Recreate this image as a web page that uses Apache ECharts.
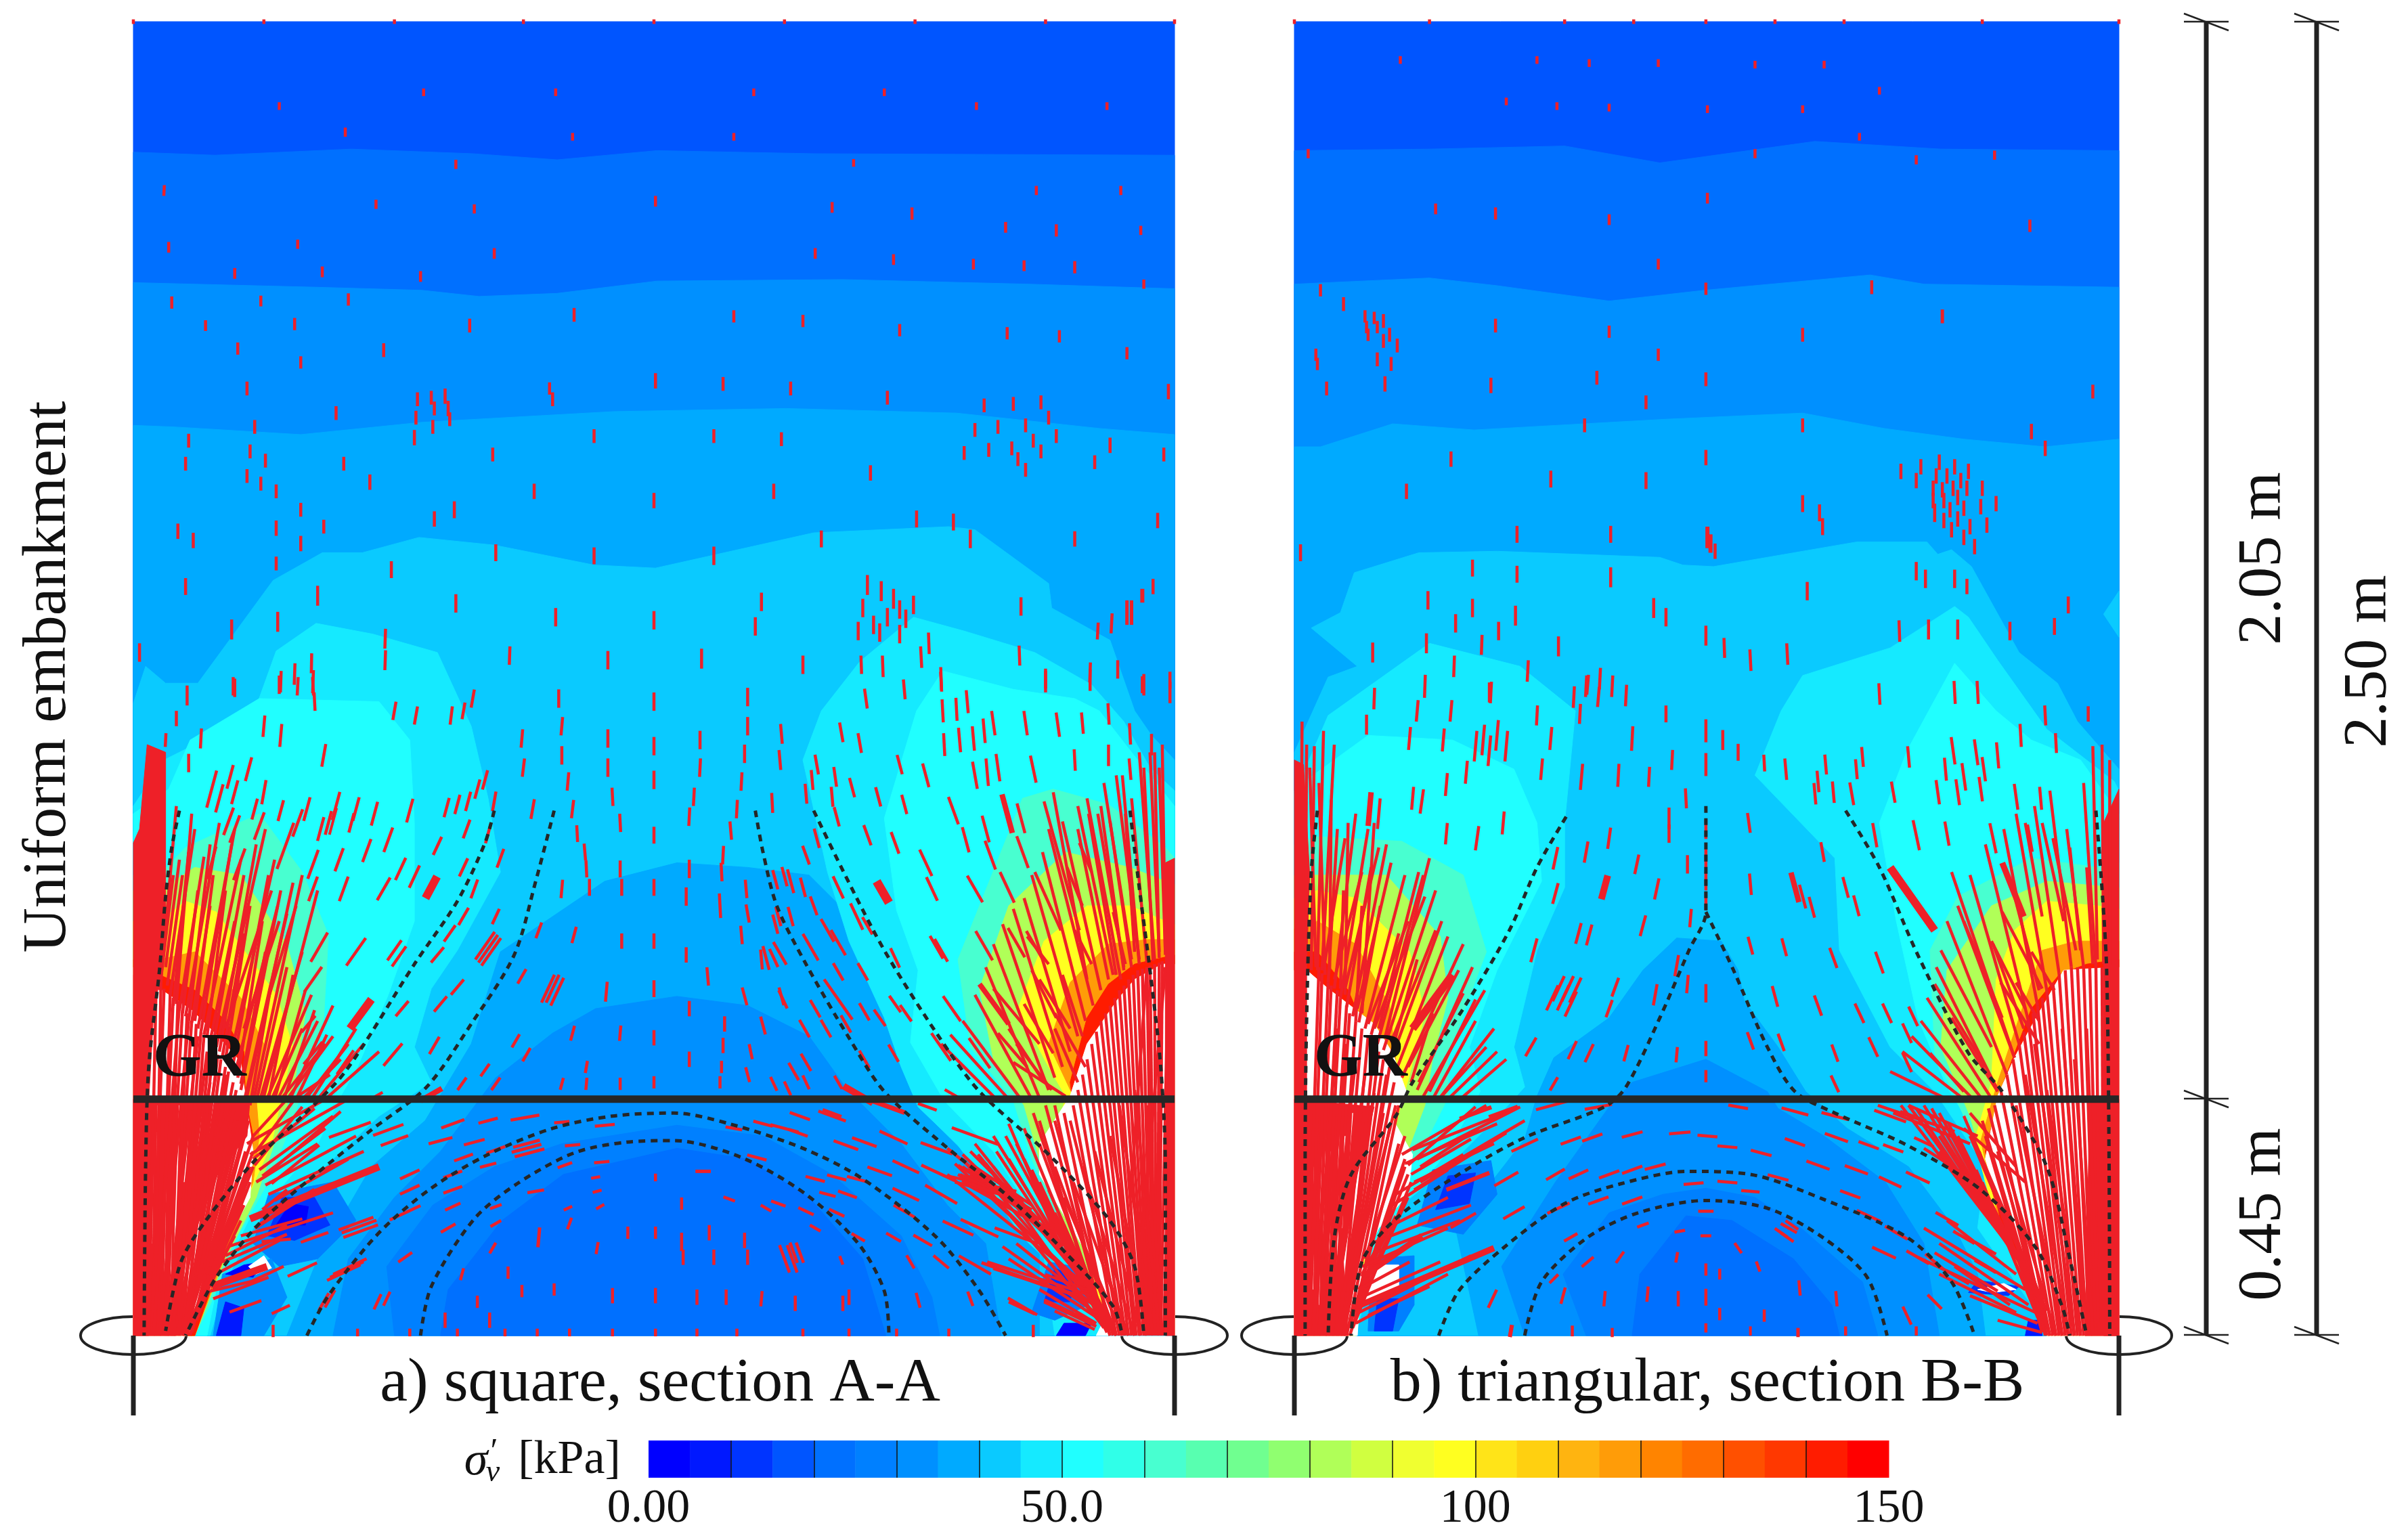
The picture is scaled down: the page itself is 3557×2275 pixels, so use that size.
<!DOCTYPE html>
<html>
<head>
<meta charset="utf-8">
<title>Uniform embankment</title>
<script src="https://cdn.jsdelivr.net/npm/echarts@6/dist/echarts.min.js"></script>
<style>html,body{margin:0;background:#fff}#main{width:3557px;height:2275px}</style>
</head>
<body>
<div id="main"></div>
<script>
// colour bins of the stress scale, 5 kPa each
var bandColors = ['#0000ff','#0018ff','#0034ff','#0055ff','#0070ff','#0080ff','#0090ff','#00aaff','#0acaff','#15eaff','#20ffff','#30ffe8','#48ffd0','#58ffb0','#70ff90','#90ff70','#b0ff58','#d0ff40','#f0ff30','#ffff20','#ffe418','#ffd010','#ffb410','#ff9c08','#ff8400','#ff6c00','#ff5000','#ff3800','#ff1c00','#ff0000'];
var scaleStart = [0,5,10,15,20,25,30,35,40,45,50,55,60,65,70,75,80,85,90,95,100,105,110,115,120,125,130,135,140,145];
var scaleTicks = [10,20,30,40,50,60,70,80,90,100,110,120,130,140];
var scaleLabels = {0:'0.00',50:'50.0',100:'100',150:'150'};

// panel units: 342 per metre, v measured up from the pile head
var widthA = 678, widthB = 537, heightAB = 856, grLevel = 154;

// [colour bin, outline] painted in order
var contoursA = [
 [3,[[0,0],[0,856],[678,856],[678,0]]],
 [4,[[0,771],[53,769],[142,773],[221,770],[276,766],[341,772],[443,770],[678,769],[678,0],[0,0]]],
 [6,[[0,686],[119,683],[188,681],[225,677],[276,679],[341,687],[462,688],[583,685],[678,682],[678,0],[0,0]]],
 [7,[[0,593],[26,592],[109,587],[188,595],[313,602],[425,604],[536,601],[629,591],[678,587],[678,0],[0,0]]],
 [8,[[0,412],[8,436],[21,425],[42,425],[91,492],[123,510],[149,510],[186,520],[235,515],[300,502],[340,500],[443,523],[531,527],[548,525],[596,490],[598,474],[636,453],[652,407],[663,391],[678,375],[678,0],[0,0]]],
 [7,[[100,0],[120,50],[155,110],[190,140],[220,190],[239,250],[273,273],[307,296],[354,308],[400,305],[440,300],[470,270],[490,230],[497,180],[520,140],[560,100],[590,60],[590,0]]],
 [6,[[130,0],[140,50],[170,90],[200,120],[236,168],[273,197],[301,213],[354,221],[400,215],[440,195],[465,160],[500,125],[530,85],[555,60],[565,0]]],
 [5,[[170,0],[165,45],[195,85],[235,110],[279,125],[354,137],[410,130],[455,105],[500,65],[520,25],[525,0]]],
 [4,[[200,0],[205,30],[240,75],[280,105],[354,122],[400,115],[440,90],[475,50],[490,0]]],
 [9,[[0,345],[20,375],[60,395],[79,407],[93,446],[119,464],[156,457],[198,445],[220,397],[231,350],[239,302],[211,251],[194,226],[183,188],[194,165],[160,143],[130,115],[100,85],[78,70],[60,35],[50,0],[0,0]]],
 [10,[[0,340],[23,356],[37,388],[82,415],[160,413],[180,388],[183,334],[183,270],[166,222],[146,175],[135,156],[120,125],[95,95],[75,75],[55,35],[48,0],[0,0]]],
 [12,[[0,300],[17,300],[34,318],[82,340],[110,302],[127,261],[124,207],[110,159],[100,130],[85,95],[68,65],[50,20],[40,0],[0,0]]],
 [16,[[0,290],[17,290],[40,305],[70,300],[100,255],[112,210],[105,165],[95,135],[80,90],[60,50],[40,0],[0,0]]],
 [19,[[0,270],[17,270],[34,283],[54,276],[93,222],[104,188],[96,153],[90,125],[72,85],[40,0],[0,0]]],
 [23,[[0,245],[17,245],[40,250],[70,220],[85,190],[80,155],[82,130],[78,100],[40,0],[0,0]]],
 [28,[[0,235],[17,235],[40,225],[60,205],[72,185],[73,155],[78,130],[75,100],[40,0],[0,0]]],
 [9,[[448,407],[473,439],[508,468],[541,459],[587,445],[624,424],[645,400],[662,370],[678,355],[678,0],[600,0],[593,51],[579,64],[562,89],[537,124],[511,149],[500,175],[489,207],[466,257],[452,302],[436,375]]],
 [10,[[510,407],[527,433],[573,421],[613,415],[629,407],[650,380],[678,345],[678,0],[620,20],[605,55],[585,80],[560,120],[528,153],[506,191],[511,238],[497,277],[489,337]]],
 [12,[[537,245],[551,280],[579,350],[599,356],[635,346],[672,318],[678,311],[678,0],[625,15],[605,70],[585,115],[573,153],[545,188]]],
 [16,[[551,226],[570,280],[607,315],[649,305],[672,296],[678,294],[678,0],[627,15],[610,65],[590,115],[580,150],[560,180]]],
 [19,[[576,213],[593,257],[621,280],[649,280],[672,270],[678,268],[678,0],[630,15],[615,70],[600,125],[607,156],[596,175]]],
 [23,[[596,190],[610,230],[635,255],[660,258],[678,258],[678,0],[625,50],[605,120],[612,156]]],
 [28,[[610,165],[621,207],[635,229],[652,242],[678,248],[678,0],[630,30],[607,120],[612,150]]],
 [5,[[78,60],[88,92],[130,100],[145,75],[120,50],[95,45]]],
 [2,[[87,65],[97,90],[118,90],[128,72],[105,62]]],
 [0,[[93,72],[102,86],[114,84],[112,72]]],
 [6,[[52,0],[58,40],[90,50],[100,25],[85,0]]],
 [1,[[54,0],[60,22],[72,18],[70,0]]],
 [0,[[60,40],[72,46],[84,48],[78,38]]],
 [-1,[[75,45],[85,52],[90,44],[80,40]]],
 [5,[[585,15],[596,48],[618,44],[622,20],[600,10]]],
 [2,[[593,22],[600,44],[613,38],[610,22]]],
 [0,[[601,0],[606,8],[624,8],[620,0]]],
 [-1,[[0,240],[17,226],[38,212],[55,195],[70,178],[73,155],[78,120],[76,90],[60,60],[50,30],[35,0],[0,0]]],
 [-1,[[610,156],[621,190],[641,219],[652,232],[670,242],[678,242],[678,0],[627,0],[635,16],[620,55],[590,105],[590,125]]]
];
var contoursB = [
 [3,[[0,0],[0,856],[537,856],[537,0]]],
 [4,[[0,772],[88,773],[176,775],[238,764],[339,778],[421,773],[537,772],[537,0],[0,0]]],
 [6,[[0,685],[88,689],[132,684],[205,674],[267,681],[375,691],[410,685],[537,683],[537,0],[0,0]]],
 [7,[[0,579],[17,579],[64,594],[117,590],[242,597],[331,601],[384,591],[436,584],[489,579],[537,584],[537,0],[0,0]]],
 [8,[[0,380],[22,429],[41,436],[11,461],[30,471],[39,497],[81,510],[132,511],[238,507],[253,502],[273,501],[366,517],[412,517],[419,509],[428,512],[441,501],[472,445],[497,425],[510,400],[537,369],[537,0],[0,0]]],
 [8,[[527,470],[537,485],[537,455]]],
 [7,[[120,0],[105,70],[150,128],[158,156],[169,181],[205,207],[227,238],[249,259],[278,257],[289,238],[293,218],[315,188],[333,159],[360,135],[400,110],[430,70],[445,40],[450,0]]],
 [6,[[150,0],[135,45],[170,100],[195,135],[205,149],[220,165],[268,180],[308,159],[315,148],[345,130],[385,100],[410,60],[420,0]]],
 [5,[[190,0],[175,40],[205,80],[240,92],[268,96],[300,90],[330,70],[370,35],[380,0]]],
 [4,[[220,0],[225,40],[255,78],[285,75],[325,50],[350,20],[355,0]]],
 [9,[[0,353],[4,362],[22,404],[88,451],[147,436],[183,407],[176,334],[176,292],[158,251],[143,188],[150,162],[130,140],[100,110],[70,85],[55,60],[45,20],[40,0],[0,0]]],
 [10,[[0,355],[8,362],[48,391],[103,388],[143,369],[158,334],[161,296],[132,238],[114,188],[121,159],[100,120],[75,90],[50,50],[40,0],[0,0]]],
 [12,[[0,320],[15,325],[70,322],[110,300],[125,250],[110,210],[100,180],[100,155],[85,125],[65,95],[45,50],[38,0],[0,0]]],
 [16,[[0,300],[15,300],[60,300],[95,260],[100,220],[90,180],[85,150],[70,110],[50,70],[40,0],[0,0]]],
 [19,[[0,285],[15,290],[40,285],[75,250],[85,210],[75,170],[68,145],[60,110],[48,70],[40,0],[0,0]]],
 [23,[[0,265],[15,270],[40,255],[62,215],[66,180],[62,150],[55,110],[45,70],[38,0],[0,0]]],
 [28,[[0,250],[15,250],[35,225],[50,190],[58,165],[55,140],[50,110],[42,60],[35,0],[0,0]]],
 [9,[[317,407],[331,430],[388,448],[430,475],[439,468],[458,440],[490,395],[534,361],[537,355],[537,0],[488,0],[480,20],[445,70],[450,110],[417,159],[388,188],[355,251],[352,311],[300,365]]],
 [10,[[490,0],[465,60],[447,127],[425,162],[406,207],[392,270],[381,334],[399,381],[430,438],[457,407],[480,388],[512,375],[537,340],[537,0]]],
 [12,[[487,16],[458,80],[436,143],[417,184],[414,251],[432,286],[480,311],[523,305],[537,308],[537,0],[490,0]]],
 [16,[[487,16],[458,80],[440,143],[421,188],[425,238],[454,280],[490,296],[534,292],[537,292],[537,0],[490,0]]],
 [19,[[490,13],[458,70],[443,127],[454,165],[457,232],[469,264],[490,283],[523,280],[537,278],[537,0],[490,0]]],
 [23,[[490,13],[460,70],[447,127],[458,165],[472,207],[487,251],[509,257],[537,257],[537,0],[490,0]]],
 [28,[[490,13],[461,70],[450,120],[460,160],[480,213],[498,235],[516,242],[537,245],[537,0],[490,0]]],
 [5,[[80,72],[90,108],[128,114],[132,92],[110,66]]],
 [2,[[92,82],[100,104],[118,106],[114,86]]],
 [5,[[48,3],[50,50],[78,52],[78,20],[68,3]]],
 [2,[[52,3],[54,24],[68,24],[64,3]]],
 [2,[[439,28],[445,36],[472,32],[465,26]]],
 [1,[[476,0],[478,10],[487,10],[487,0]]],
 [-1,[[0,238],[8,238],[22,226],[52,203],[64,184],[74,156],[63,143],[77,118],[74,92],[55,70],[44,48],[41,0],[0,0]]],
 [-1,[[44,22],[44,46],[68,46],[68,30]]],
 [-1,[[458,156],[469,181],[483,207],[501,238],[518,239],[537,240],[537,0],[490,0],[476,48],[461,80],[450,115]]],
 [-1,[[445,30],[462,34],[470,30],[455,28]]]
];

// solid red areas where the direction marks overlap completely
var solidA = [
 [[0,321],[4,330],[9,385],[21,380],[21,276],[17,232],[13,207],[10,153],[10,0],[0,0]],
 [[0,154],[76,154],[74,130],[55,105],[35,55],[28,0],[0,0]],
 [[672,0],[672,308],[678,311],[678,0]]
];
var solidB = [
 [[0,0],[0,375],[6,372],[10,300],[8,240],[8,0]],
 [[0,154],[52,149],[41,105],[32,48],[35,0],[0,0]],
 [[527,0],[527,334],[537,356],[537,0]],
 [[515,0],[518,154],[537,154],[537,0]]
];
// thin gaps left between overlapping marks
var slitsA = [[14,10,16,150,1],[20,40,22,150,1],[27,60,30,150,1],[33,100,38,150,1],[42,120,46,152,1],[48,125,52,152,1],[12,60,13,130,1],[24,20,25,90,1]];
var slitsB = [[16,20,18,145,1],[22,5,24,120,1],[28,40,29,140,1],[12,30,13,110,1],[35,90,38,145,1],[19,60,20,130,1],[31,70,33,130,1]];

// direction marks [u, v, tilt from vertical in degrees, length, (width)]
var ticksATop = [[0,856,0,3],[85,856,0,3],[170,856,0,3],[254,856,0,3],[339,856,0,3],[424,856,0,3],[509,856,0,3],[594,856,0,3],[678,856,0,3],
[189,810,0,5],[275,810,0,5],[404,810,0,5],[489,810,0,5],[95,801,0,5],[549,801,0,5],[634,801,0,5],[138,784,0,6],[286,781,0,5],[391,781,0,5],[210,763,0,6],[469,764,0,5],[20,746,3,7],[158,737,0,6],[222,734,0,6],[340,739,0,7],[588,746,0,6],[643,746,0,6],[455,735,0,7],[507,731,0,8],[568,722,0,7],[601,720,0,8],[656,720,0,6],[23,709,0,7],[107,711,0,6],[235,705,0,7],[444,705,0,7],[495,701,0,7],[547,698,0,7],[580,697,0,7],[613,696,0,8],[66,692,0,7],[123,693,0,7],[187,690,0,7],[658,685,0,6],[25,673,0,8],[83,674,0,7],[140,675,0,8],[287,665,0,9],[391,664,0,8],[436,661,0,8],[47,658,0,7],[105,659,0,8],[219,658,0,9],[499,655,0,8],[569,653,0,8],[603,651,0,8],[68,643,0,8],[163,642,0,9],[647,640,0,8],[109,634,0,8],[340,622,0,10],[384,620,0,9],[428,617,0,9],[74,617,0,9],[491,611,0,9],[674,615,0,10],[185,610,0,9],[194,611,0,9],[203,612,0,10],[205,604,0,10],[196,604,0,9],[271,617,0,8],[273,610,0,9],[132,601,0,9],[184,598,0,9],[206,597,0,9],[195,592,0,9],[183,585,0,10],[79,592,0,9],[300,586,0,9],[378,586,0,9],[422,584,0,9],[554,606,0,9],[573,607,0,9],[591,608,0,9],[596,598,0,9],[548,590,0,9],[563,592,0,9],[581,593,0,9],[601,586,0,9],[586,583,0,9],[541,575,0,9],[557,577,0,9],[572,578,0,9],[591,576,0,9],[576,571,0,9],[581,564,0,9],[636,580,0,10],[626,569,0,9],[671,574,0,9],[36,583,0,9],[76,576,0,9],[86,570,0,9],[34,568,0,9],[137,568,0,9],[234,574,0,9],[74,560,0,9],[83,555,0,9],[154,556,0,10],[480,562,0,10],[93,550,0,9],[261,550,0,10],[417,550,0,10],[339,544,0,10],[109,538,0,9],[209,538,0,11],[196,532,0,10],[510,532,0,11],[534,530,0,11],[667,531,0,10],[29,524,0,10],[39,518,0,10],[93,526,0,10],[124,527,0,9],[109,516,0,10],[545,519,0,12],[613,519,0,10],[236,510,0,11],[448,519,0,11],[300,508,0,11],[378,508,0,12],[93,503,0,9],[168,499,0,11],[34,488,0,11],[120,482,0,13],[478,489,0,13],[487,485,0,13],[495,480,0,13],[409,478,0,12],[210,477,0,12],[578,475,0,12],[508,476,0,12],[475,474,0,12],[491,468,0,12],[499,473,0,12],[503,467,0,12],[482,463,0,12],[472,459,0,12],[486,458,0,12],[499,457,0,12],[664,488,0,10],[657,482,0,9,6],[647,471,0,16,5],[650,471,0,16,5],[637,464,3,13],[628,459,3,11],[275,468,0,12],[339,466,0,12],[405,462,0,12],[94,465,0,13],[64,460,0,13],[164,454,2,13],[518,451,-2,14],[513,442,-3,14],[4,445,0,12],[164,440,2,13],[245,443,2,12],[309,440,0,12],[370,441,0,13],[436,437,0,12],[577,443,-2,13],[116,438,1,13],[105,431,2,14],[96,426,2,14],[117,426,2,15],[474,437,-2,12],[488,436,-2,14],[526,428,-2,15],[594,428,0,13],[623,432,2,13],[641,434,0,12],[657,424,0,11],[675,427,0,11],[66,422,0,12],[35,417,0,13]];
var ticksAMid = [[28,402,0,10],[65,423,0,12],[95,424,0,12],[107,423,3,12],[117,423,-3,12],[118,413,-3,12],[44,389,3,13],[21,388,3,9],[85,397,5,14],[96,391,5,15],[124,378,10,15],[170,407,10,12],[184,404,10,12],[207,404,7,12],[215,407,10,11],[221,415,10,12],[277,415,0,12],[279,397,5,12],[279,378,0,12],[339,413,0,12],[339,384,0,12],[339,362,0,12],[309,389,0,12],[309,370,0,12],[253,389,5,12],[254,370,7,12],[283,361,5,12],[312,351,-3,12],[286,343,7,12],[317,334,-3,12],[289,327,-3,11],[339,326,0,11],[294,315,-5,11],[317,304,0,11],[295,304,-3,11],[339,292,0,11],[318,292,0,11],[279,291,5,12],[297,292,0,11],
[36,373,0,12],[75,369,15,16],[51,356,15,25],[63,364,15,16],[56,350,15,19],[85,354,10,16],[66,354,15,16],[132,345,15,19],[145,343,15,16],[113,343,15,16],[96,342,15,14],[79,343,15,14],[157,340,15,16],[180,342,15,16],[204,344,15,13],[211,346,15,13],[218,348,15,13],[224,356,15,13],[229,362,15,13],[235,348,10,13],[260,343,10,13],[130,335,15,18,4],[122,330,15,16],[127,334,15,16],[107,334,20,19],[82,332,20,19],[66,330,20,19],[62,335,20,19],[142,334,15,13],[166,323,20,17],[152,316,20,16],[134,310,20,16],[117,307,20,20],[99,319,20,32],[69,307,20,22],[51,308,15,22],[174,304,25,16],[183,299,25,16],[163,291,30,17],[198,319,25,13],[217,330,20,13],[215,305,25,13],[231,327,15,13],[239,311,20,13],[222,291,20,13],[137,291,20,17],[117,291,20,17],[194,292,28,16,12],
[236,273,25,11],[229,254,35,22],[231,252,35,22],[233,250,35,22],[287,261,15,11],[318,257,0,10],[339,257,0,10],[264,264,20,11],[145,250,35,22],[121,253,30,22],[170,251,35,16],[173,247,35,16],[198,248,40,13],[206,262,35,13],[215,273,30,13],[211,227,40,13],[253,234,30,11],[270,226,25,20],[273,226,25,20],[276,224,25,20],[308,224,5,13],[339,226,0,11],[117,232,35,20],[175,213,40,13],[200,216,40,13],[114,203,40,14],[117,184,40,19],[169,183,40,19],[196,189,30,13],[249,192,30,10],[256,183,30,10],[229,173,35,10],[286,197,15,10],[317,197,5,10],[339,194,0,10],[295,175,10,8],[138,178,35,19],[236,164,35,10],[214,164,35,10],[279,164,15,8],[295,164,5,8],[317,164,0,8],[339,165,0,8],[194,157,60,16,8],[158,156,60,10]];
var ticksARight = [[400,416,0,12],[400,397,0,12],[398,379,0,12],[396,361,3,12],[369,388,0,12],[369,370,3,12],[365,351,3,12],[362,338,3,12],[393,343,3,12],[389,329,-5,12],[384,313,3,12],[383,302,-3,12],[362,304,0,12],[360,286,0,12],[382,280,-3,16],[399,291,-5,12],[400,275,-10,12],[396,261,-5,12],[360,248,0,10],[374,234,-5,12],[398,221,-15,12],[422,221,-15,12],[410,202,-15,12],[362,213,0,10],[385,203,0,10],[384,189,0,10],[362,180,0,10],[402,185,-12,10],[383,175,0,8],[382,165,0,8],[400,170,-15,10],
[422,392,-5,13],[421,375,-5,13],[416,347,-3,13],[461,393,-10,13],[473,386,-10,13],[477,415,-8,13],[502,421,-5,13],[526,426,-3,13],[527,407,-3,15],[528,385,-3,15],[536,408,-3,15],[543,413,-5,15],[538,388,-5,16],[547,389,-5,16],[554,394,-5,16],[560,399,-8,16],[581,399,-8,16],[602,398,-8,16],[618,399,-5,14],[635,405,-3,14],[649,392,-3,14],[663,385,0,14],[594,426,0,14],[623,427,0,14],[658,424,0,14],[675,419,0,14],[445,372,-10,13],[442,362,-5,13],[457,364,-8,13],[468,357,-15,13],[485,351,-15,13],[502,346,-15,13],[499,372,-15,13],[516,365,-15,16],[438,353,-5,13],[455,351,-5,13],[534,342,-20,19],[548,365,-10,18],[556,367,-5,18],[563,370,-8,18],[586,369,-12,18],[613,375,-3,14],[635,378,0,14],[649,369,-5,14],[569,340,-15,26,8],[578,337,-15,20],[555,330,-15,18],[542,323,-15,17],[558,313,-20,20],[579,315,-20,22],[458,338,-15,13],[445,324,-15,13],[478,326,-20,14],[496,321,-20,15],[516,308,-25,19],[520,291,-25,17],[548,291,-30,20],[569,292,-25,22],[438,313,-20,13],[424,299,-15,13],[418,297,-15,13],[428,296,-15,16],[436,292,-15,13],[443,280,-20,13],[459,292,-25,16],[488,289,-30,16,13],[420,273,-15,13],[428,273,-15,13],[418,268,-15,13],[452,264,-30,17],[459,256,-30,19],[441,253,-30,20],[421,249,-30,17],[412,246,-15,16],[409,245,-5,13],[417,246,-25,13],[496,246,-25,14],[471,273,-25,19],[478,267,-30,13],[526,251,-30,17],[523,253,-30,17],[554,254,-30,22],[575,256,-30,22],[587,254,-30,22],[459,237,-30,13],[475,237,-30,13],[423,219,-25,13],[459,219,-35,32],[444,213,-30,13],[437,200,-30,13],[476,211,-30,13],[486,207,-35,13],[496,216,-35,13],[503,210,-35,13],[464,203,-30,13],[451,200,-30,13],[533,213,-35,20],[561,216,-35,30,4],[526,188,-35,22],[551,184,-35,24],[495,184,-30,13],[476,180,-30,13],[438,178,-30,13],[430,172,-30,13],[417,164,-25,10],[426,161,-25,10],[438,165,-25,10],[459,165,-30,10],[472,157,-60,22,10],
[434,143,-70,14],[455,145,-70,13],[492,149,-70,22,7],[517,149,-70,13],[534,157,-60,13],[391,135,-80,11],[410,138,-75,13],[424,135,-75,19],[433,132,-70,13],[455,143,-70,19],[464,124,-70,17],[476,126,-70,17],[495,129,-65,20],[523,122,-70,22],[548,130,-70,32],[371,107,-90,10,5],[406,116,-75,13],[444,102,-75,13],[458,103,-75,13],[471,102,-75,13],[486,107,-70,17],[503,110,-65,19],[524,106,-65,24],[388,89,-70,8],[420,86,-70,10],[412,83,-60,8],[452,92,-75,11],[465,92,-70,13],[503,92,-65,19],[526,92,-60,24],[551,99,-65,28],[556,95,-70,35],[551,105,-70,25],[438,81,-65,11],[458,80,-65,11],[502,81,-60,16],[444,70,-60,8],[472,64,-60,10],[495,64,-60,11],[514,62,-60,14],[537,70,-65,22],[551,70,-65,27],[575,65,-70,30],[424,50,-20,19],[429,50,-20,19],[430,54,-20,14],[434,54,-20,14],[461,49,-20,6],[506,48,-30,10],[526,48,-50,13],[548,46,-60,24],[573,40,-70,44,5],[607,35,-70,28],[357,61,0,12],[375,67,0,10],[378,51,0,10],[358,51,0,10],[398,62,0,10],[400,51,0,10],[357,86,0,8],[367,25,0,10],[386,25,0,10],[409,24,5,10],[431,21,0,10],[462,21,0,10],[466,25,0,10],[511,23,-15,10],[545,24,-20,10],[579,19,-60,22],[609,16,-65,35],[367,2,0,5],[393,2,0,5],[436,2,0,5],[466,2,0,5],[497,2,0,5],[531,2,0,5],[586,3,0,8]];
var ticksALow = [[141,134,70,29],[166,134,70,21],[170,127,70,19],[200,127,75,16],[208,138,70,16],[231,140,75,13],[255,142,80,19],[279,139,85,10],[307,137,85,13],[222,126,75,14],[236,121,70,13],[256,122,75,20],[258,119,75,20],[256,125,75,18],[286,124,85,10],[305,113,85,10],[281,111,70,10],[231,111,75,11],[215,116,70,13],[208,105,70,13],[180,105,65,14],[180,95,65,14],[208,95,70,13],[208,84,65,11],[262,94,80,11],[301,103,80,6],[302,94,75,6],[236,84,70,8],[283,83,65,6],[304,84,60,6],[177,80,65,22],[145,73,70,24],[147,71,70,24],[148,68,70,24],[118,64,70,19],[93,62,85,19],[205,70,60,11],[236,73,60,8],[264,64,5,13,5],[284,73,20,8],[322,67,0,8],[340,67,0,8],[234,57,30,8],[302,57,10,8],[177,51,55,11],[139,43,65,24],[141,45,65,24],[137,41,65,24],[110,43,65,21],[87,40,65,24],[96,17,65,13],[73,19,70,22],[124,22,30,13],[128,24,30,13],[159,22,25,11],[165,24,25,10],[214,40,15,8],[244,41,0,8],[253,29,0,8],[274,30,0,8],[224,22,0,8],[312,26,0,10],[340,26,0,10],[340,103,0,5],[91,3,0,8],[146,2,0,5],[180,2,0,5],[203,10,0,10],[211,2,0,5],[232,10,0,10],[242,2,0,5],[263,2,0,5],[284,2,0,5],[312,2,0,5],[340,2,0,5]];
var ticksBTop = [[0,856,0,3],[88,856,0,3],[176,856,0,3],[221,856,0,3],[268,856,0,3],[313,856,0,3],[358,856,0,3],[448,856,0,3],[537,856,0,3],
[69,831,0,5],[158,831,0,5],[192,829,0,5],[237,829,0,5],[300,828,0,5],[345,828,0,5],[381,811,0,5],[138,804,0,5],[171,801,0,5],[205,800,0,5],[269,799,0,5],[331,799,0,5],[368,781,0,5],[9,770,0,6],[300,770,0,6],[405,766,0,6],[456,769,0,6],[269,741,0,7],[92,734,0,7],[131,731,0,8],[205,727,0,7],[479,723,0,8],[237,698,0,7],[17,681,0,8],[268,682,0,8],[376,683,0,9],[32,672,0,9],[46,664,0,8],[52,663,0,8],[58,661,0,9],[47,657,0,8],[54,657,0,8],[48,652,0,8],[62,652,0,9],[58,648,0,9],[67,645,0,9],[54,636,0,9],[63,633,0,9],[14,639,0,8],[15,633,0,8],[21,617,0,9],[59,620,0,10],[131,658,0,9],[205,654,0,8],[331,652,0,9],[422,664,0,9,5],[237,639,0,8],[128,619,0,10],[197,624,0,9],[268,623,0,9],[229,608,0,9],[520,615,0,9],[189,593,0,9],[331,593,0,9],[480,589,0,10],[489,578,0,10],
[268,572,0,10],[102,571,0,10],[167,558,0,11],[229,557,0,11],[73,550,0,10],[331,542,0,11],[342,536,0,11],[344,527,0,11],[395,563,0,10],[408,566,0,10],[405,557,0,10],[420,569,0,10],[418,560,0,10],[425,560,0,10],[430,566,0,10],[439,563,0,10],[434,557,0,10],[416,552,0,10],[422,551,0,10],[429,552,0,10],[438,552,0,10],[448,552,0,10],[416,544,0,10],[423,544,0,10],[432,546,0,10],[447,540,0,10],[457,542,0,10],[436,539,0,10],[427,538,0,10],[417,536,0,12],[432,532,0,10],[423,531,0,10],[440,527,0,10],[451,528,0,10],[428,525,0,10],[436,520,0,10],[443,514,0,10],[145,522,0,11],[206,522,0,11],[269,520,0,14,6],[271,516,0,12,6],[274,511,0,10],[4,510,0,11],[116,500,0,11],[145,496,0,11],[206,494,0,13],[405,498,0,12],[411,493,0,12],[430,493,0,12],[438,488,0,10],[334,485,0,12],[87,479,0,12],[116,474,0,12],[144,469,0,13],[234,474,0,13],[242,468,0,12],[105,464,0,12],[133,459,0,12],[504,476,0,11],[394,459,-2,14],[413,460,0,13],[432,460,0,13],[466,459,0,12],[495,462,0,11],[268,456,0,13],[280,448,-2,13],[297,440,-3,14],[321,444,-3,14],[86,451,0,13],[51,445,0,13],[122,450,2,13],[172,449,0,13],[104,436,2,14],[152,433,3,14],[85,423,2,15],[128,419,3,14],[182,416,3,14],[190,423,3,14],[199,428,3,14],[207,423,3,14],[216,417,3,14],[52,415,2,14],[381,418,-3,14],[430,419,-3,15],[445,419,-3,15]];
var ticksBMid = [[80,407,5,14],[102,407,5,14],[47,398,0,13],[75,389,5,15],[97,388,5,15],[127,419,0,13],[158,404,3,13],[167,389,5,15],[191,424,5,13],[198,416,5,13],[186,405,3,13],[242,405,0,11],[220,389,3,16],[246,375,3,13],[268,394,0,15],[268,372,0,15],[279,388,0,13],[289,380,0,11],[306,373,-3,11],[320,369,-5,14],[346,372,-5,13],[370,377,-5,13],[400,377,-5,14],[473,391,-3,15],[489,404,-3,13],[496,386,-3,13],[517,405,0,10],[429,381,-8,18],[444,380,-8,17],[458,378,-5,17],[424,369,-5,15],[436,364,-8,18],[449,369,-8,16],[419,354,-8,16],[432,354,-8,17],[447,356,-8,16],[470,351,-8,17],[486,350,-5,15],[390,354,-10,14],[378,326,-10,16],[405,326,-12,20],[425,327,-10,16],[455,324,-12,20],[479,324,-10,18],[366,369,-5,13],[351,354,-5,14],[341,361,-5,14],[339,353,-5,14],[363,353,-10,15],[344,315,-10,13],[296,334,-8,13],[268,330,0,13],[244,337,0,14],[255,350,-3,13],[244,327,0,12],[268,311,0,12],[256,307,0,12],[223,307,12,13],[205,324,8,14],[190,315,10,14],[170,311,12,15],[187,364,5,17],[211,365,3,15],[231,364,3,13],[161,369,5,14],[136,334,5,15],[119,324,8,16],[99,327,5,14],[112,367,5,15],[99,359,5,15],[83,348,8,16],[77,350,5,15],
[123,388,5,20],[127,381,5,20],[132,391,5,20],[138,384,5,20],[118,384,5,20],[49,343,5,22,8],[55,340,5,20],[202,292,15,16,10],[326,292,-15,20,8],[331,286,-15,16],[337,279,-15,14],[297,294,-5,14],[236,291,12,14],[268,296,0,12],[268,283,0,12],[258,272,5,12],[227,267,15,14],[192,261,15,14],[185,262,15,14],[170,288,15,14],[156,251,15,16],[297,254,-15,12],[319,253,-15,12],[351,246,-20,14],[359,292,-15,14],[366,280,-15,14],[381,243,-20,15],[209,227,20,13],[205,213,20,12],[256,229,5,12],[249,241,10,14],[235,222,10,14],[268,223,0,12],[313,221,-15,14],[341,215,-20,14],[368,210,-25,14],[386,210,-25,14],[403,208,-25,14],[172,226,25,18],[178,226,25,18],[183,225,25,18],[168,220,25,18],[175,220,25,18],[180,216,25,18],[154,188,30,14],[181,186,25,13],[192,184,25,13],[216,184,15,11],[249,183,5,10],[268,187,0,10],[297,192,-20,12],[317,191,-20,12],[352,184,-20,12],[377,188,-25,14],[399,197,-25,14],[399,178,-25,14],[352,164,-25,12],[268,169,0,8],[169,164,30,10]];
var ticksBLow = [[180,127,70,14],[194,129,70,14],[220,131,75,14],[251,132,85,14],[269,130,-85,13],[282,123,-85,13],[304,119,-75,14],[326,126,-70,14],[353,129,-70,16],[374,124,-70,14],[390,122,-70,14],[410,126,-65,14],[118,145,70,22,6],[136,146,70,20],[168,150,75,22],[198,149,80,18],[289,149,-80,13],[326,146,-75,18],[352,143,-75,18],[388,143,-70,22],[403,143,-70,18],[150,124,65,19],[138,102,60,18],[170,105,60,14],[185,105,65,14],[205,105,70,14],[220,108,70,14],[235,110,75,14],[260,99,85,13],[282,100,-85,13],[297,94,-85,12],[315,103,-75,14],[341,111,-70,16],[366,108,-70,16],[388,100,-65,16],[362,92,-70,14],[406,103,-65,17],[110,75,60,19],[172,83,65,16],[143,80,60,16],[198,88,70,14],[220,88,70,14],[268,81,90,10],[268,65,90,7],[251,68,80,7],[227,72,70,8],[289,57,-35,8],[322,70,-60,12],[317,67,-55,10],[321,64,-55,10],[324,72,-55,10],[374,78,-65,17],[392,67,-60,17],[425,76,-60,17],[436,64,-60,16],[384,54,-65,17],[406,51,-60,17],[212,51,35,9],[191,48,50,10],[180,64,60,10],[249,51,10,7],[268,43,0,8],[302,45,-20,7],[277,40,0,7],[169,37,45,8],[129,24,25,13],[175,26,15,11],[202,24,5,10],[230,27,5,10],[250,24,0,10],[268,25,0,11],[306,13,0,8],[277,14,0,8],[329,31,-5,10],[353,24,-5,10],[399,13,-25,13],[417,22,-45,13],[432,38,-60,17],[417,48,-50,16],[450,57,-60,16],[450,45,-60,16],[141,3,10,8,6],[181,3,0,7],[207,2,0,6],[268,5,0,6],[297,3,0,6,4],[328,2,0,6,5],[359,3,0,6],[405,3,0,6]];

// long, crowded marks next to the piles [u1, v1, u2, v2, (width)]
var fanALeft = [[12,0,20,226],[16,0,26,220],[20,0,32,212],[24,0,38,205],[28,0,44,198],[31,2,50,190],[33,5,55,183],[35,10,60,175],[37,20,65,165],[40,35,70,155],[44,40,60,170],[36,4,78,120],[38,10,76,110],[40,15,74,95],[42,20,72,85],[38,2,70,125],[34,2,72,130],[33,0,68,140],[30,0,64,150],[26,0,60,160],[22,0,50,165],
[10,0,15,236],[14,0,18,232],[18,0,24,224],[22,0,29,218],[26,0,35,210],[29,0,41,203],[32,0,46,196],[34,3,52,188],[36,8,57,180],[38,14,62,172],[40,25,67,160],[42,30,72,150],[13,0,30,215],[17,0,36,205],[21,0,42,195],[25,0,48,185],[29,0,54,172],[32,0,60,160],[35,0,66,150],[37,0,70,135],[39,6,73,120],[41,10,76,100],[43,18,70,75],[45,25,66,65],[46,30,78,110],[48,40,78,130],[50,45,75,140],
[17,225,26,300],[21,240,30,310],[26,215,36,315],[32,210,42,290],[36,205,50,320],[40,205,52,300],[44,198,64,320],[48,195,60,290],[52,190,72,300],[56,185,80,320],[60,180,76,280],[64,172,88,300],[68,168,84,270],[70,160,96,290],[72,152,100,275],[76,150,90,230],[80,152,100,240],[82,152,110,250],[86,152,116,222],[90,154,110,200],[94,154,120,205],[96,154,125,190],[100,154,130,195],[104,154,128,170],[110,154,135,180],[60,200,90,290],[72,200,95,270],[88,220,106,280],
[18,232,28,345],[22,228,32,300],[24,222,40,330],[28,216,38,340],[30,212,46,312],[34,208,56,334],[38,204,50,280],[42,200,66,330],[46,196,70,310],[50,192,66,270],[54,188,86,330],[58,182,72,262],[62,176,92,310],[66,170,94,280],[70,164,86,250],[74,156,104,295],[78,152,110,300],[84,152,120,290],[88,154,104,235],[92,154,112,225],[98,154,118,212],[102,154,130,215],[106,154,126,196],[112,154,140,190],[116,154,145,200],[120,154,150,190],[125,154,160,185],
[79,111,110,149],[82,108,130,143],[87,105,135,146],[90,99,121,124],[80,120,105,154],[78,130,100,154],[74,125,125,154],[76,118,140,154],[78,115,118,148],[84,104,125,135],[86,98,145,130],[88,92,150,120],[92,88,140,115],[80,100,120,125],[84,82,100,95],
[76,76,160,110,7],[51,32,87,45,7],[79,70,118,95,4],[70,65,110,76,3],[141,200,155,219,8],[50,38,95,62],[46,28,80,36],[52,24,88,38],[60,52,100,72],[58,48,100,66],[62,58,130,80]];
var fanARight = [[640,0,612,150],[644,0,618,170],[648,0,624,190],[652,0,630,205],[655,0,636,215],[658,0,642,225],[660,0,648,232],[662,0,654,238],[664,0,660,240],[666,0,665,242],[668,0,670,244],[638,0,600,140],[636,0,590,125],[634,2,580,115],[632,5,560,105],[630,8,540,115],[640,0,600,110],[645,0,610,140],
[636,0,606,145],[642,0,615,160],[646,0,621,180],[650,0,627,198],[653,0,633,210],[656,0,639,220],[659,0,645,228],[661,0,651,235],[663,0,657,239],[665,0,662,241],[667,0,668,243],[669,0,674,245],[671,0,677,246],[670,0,660,150],[668,0,652,160],[664,0,642,150],[660,0,636,130],[656,0,626,120],[652,0,618,110],[648,0,612,100],[644,0,606,90],[640,0,600,80],[636,4,596,95],[632,8,590,100],[630,12,585,108],[654,30,672,240],[650,100,660,240],
[621,350,643,232],[599,354,621,232],[615,345,638,235],[628,340,645,240],[632,360,650,245],[640,365,655,245],[646,340,652,250],[655,380,665,245],[662,380,668,250],[668,370,672,250],[593,348,616,264],[587,302,604,264],[582,260,596,242],[551,229,570,203,5],[563,197,582,175],[580,216,599,184],[585,238,601,207],[570,200,593,165],[590,232,610,200],[608,305,618,280],[616,321,624,302],[613,264,624,242],[638,276,646,242],[573,178,607,156],[600,200,615,165],[605,235,618,195],
[640,235,622,340],[645,238,630,345],[650,240,636,335],[655,242,644,365],[660,243,650,350],[664,244,658,370],[668,246,665,380],[672,248,670,385],[635,232,615,330],[630,225,605,335],[625,215,596,330],[620,205,592,315],[615,195,585,300],[610,185,580,285],[605,175,573,278],[600,168,566,268],[596,160,560,255],[590,155,555,240],[585,154,548,222],[578,154,540,205],[570,154,532,196],[562,154,526,190],[620,175,600,210],[575,190,598,160],[590,190,560,226],
[627,15,575,125],[628,18,570,115],[629,22,560,110],[628,12,590,140],[630,10,600,150],[626,20,550,108],[625,25,545,105],[622,30,535,112],[618,35,530,105],[610,50,540,118],[605,58,560,130],[600,65,530,122],[537,111,576,86],[537,105,570,84],[545,112,585,85],[540,100,590,72],
[612,44,555,112],[615,40,550,118],[620,32,562,120],[623,28,568,130],[626,22,580,135],[629,16,586,145],[631,12,594,150],[608,50,548,125],[603,60,570,138],[596,68,540,110],[590,75,545,120],[585,82,548,105],[580,88,535,100],[575,94,530,104],
[556,48,624,26,3],[560,44,615,26,4],[593,22,627,6],[570,22,587,14],[630,10,570,50],[628,14,566,58],[625,20,575,60],[627,8,590,30],[626,4,600,16]];
var fanBLeft = [[15,238,19,394],[23,238,24,349],[33,222,35,334],[11,238,13,384],[44,210,52,334],[55,200,81,302],[59,194,88,311],[66,188,96,270],[74,175,107,238],[81,165,110,223],[88,159,118,219],[96,156,125,188],[41,213,63,308],[33,226,55,318],[26,232,44,302],[19,238,33,324],[30,226,32,290],[48,203,74,270],[52,200,85,286],[63,191,92,264],[77,200,103,235,8],
[18,238,26,385],[22,230,28,330],[26,226,40,340],[30,220,48,330],[34,214,50,305],[38,208,60,320],[42,204,56,280],[46,200,72,300],[50,196,68,262],[54,190,84,300],[58,186,92,290],[62,180,80,245],[66,172,100,260],[70,168,110,255],[76,165,90,210],[80,160,116,240],[84,156,124,225],[90,154,118,205],[94,154,130,200],[100,154,132,185],[108,154,138,180],[40,205,44,280],[14,240,10,370],[20,235,16,360],[4,236,5,400],[7,238,8,385],
[8,0,16,240],[12,0,22,230],[16,0,28,225],[20,0,34,215],[25,0,40,205],[30,0,48,195],[33,5,55,185],[35,15,62,175],[38,30,65,165],[40,45,66,150],[30,0,50,150],[36,0,72,110],[38,5,76,100],[40,15,74,90],[42,25,70,82],[44,35,68,150],[46,50,72,130],
[10,0,18,236],[14,0,24,228],[18,0,30,220],[22,0,36,210],[27,0,44,200],[32,0,52,188],[34,10,58,180],[36,20,60,170],[12,0,28,200],[16,0,34,190],[20,0,40,180],[24,0,46,170],[28,0,52,158],[32,0,58,145],[34,0,62,135],[36,5,68,125],[38,12,72,115],[40,20,74,105],[42,30,66,78],[44,40,62,72],
[74,111,118,149],[77,121,140,146],[80,115,147,149],[82,110,120,135],[78,100,130,125],[70,118,125,150],[72,112,132,138],[76,105,115,128],[78,95,138,132],[66,92,110,118],[82,100,150,140],[64,85,100,108],
[41,19,130,57,6],[44,38,83,65,6],[52,54,108,75,3],[48,13,88,32,3],[99,95,127,106,4],[40,8,100,40],[42,15,115,52],[46,26,95,48],[44,45,100,70],[50,60,115,85],[42,30,75,48],[60,70,100,90]];
var fanBRight = [[498,0,472,190],[502,0,478,205],[506,0,484,215],[510,0,490,225],[514,0,498,236],[518,0,506,240],[522,0,514,240],[525,0,522,240],[494,0,464,170],[490,0,456,150],[488,5,448,140],
[492,0,460,160],[496,0,468,180],[500,0,475,198],[504,0,481,210],[508,0,487,220],[512,0,494,230],[516,0,502,238],[520,0,510,240],[524,0,518,240],[527,0,526,240],[489,0,452,148],[487,2,450,130],[492,0,458,120],[496,0,464,110],[500,0,470,150],[504,0,476,170],[508,0,482,190],[512,0,490,160],[516,0,500,200],[520,0,508,180],[524,0,516,200],[486,8,446,120],[484,12,448,100],[482,18,444,108],
[428,302,469,181],[388,305,417,264,8],[421,251,454,188],[461,308,475,273,6],[487,334,501,270],[505,318,512,251],[476,334,487,273],[494,324,509,251],[516,305,520,242],[520,384,523,245],[531,375,531,242],[454,257,476,213],[461,276,487,226],[436,270,461,207],[417,229,450,175],[428,207,458,159],[414,184,436,159],[470,230,485,205],[480,250,495,225],
[472,190,440,300],[478,205,450,320],[484,215,462,330],[490,225,470,340],[498,236,482,345],[506,240,492,355],[514,240,503,330],[522,240,514,360],[527,242,526,385],[469,181,432,280],[464,170,425,270],[458,160,418,240],[453,156,412,220],[448,154,408,205],[442,154,402,195],[436,154,396,185],[425,154,388,172],[475,200,455,255],[485,225,468,290],[460,230,485,190],
[490,16,436,143],[486,22,440,130],[482,30,420,145],[478,40,410,150],[475,48,400,150],[436,135,476,100,3],[440,145,470,110,3],[390,145,440,125],[400,150,445,130],[380,150,430,133],[406,51,487,13],[417,54,458,29],[458,10,487,2],
[488,18,432,130],[484,25,426,138],[480,34,415,148],[476,42,405,148],[472,50,395,150],[468,56,420,130],[464,62,436,120],[460,68,430,110],[456,74,420,120],[444,100,410,122],[478,20,420,60],[476,30,410,70],[470,40,425,75],[466,20,430,45],[484,8,440,26],[470,15,420,40]];

// dashed stress-arch outlines
var dashA = [
 [[30,342],[25,318],[21,286],[17,238],[10,175],[8,111],[7,0]],
 [[235,342],[229,321],[211,283],[183,242],[138,172],[110,143],[79,114],[48,76],[31,48],[21,3]],
 [[274,342],[262,296],[248,248],[220,203],[191,162],[155,134],[115,102],[82,73],[54,38],[34,0]],
 [[113,0],[127,26],[160,67],[194,96],[231,118],[273,135],[312,143],[352,145],[388,138],[436,122],[475,102],[523,64],[551,29],[568,0]],
 [[187,0],[194,32],[222,76],[250,99],[287,119],[321,126],[352,127],[396,116],[438,92],[472,60],[489,29],[492,0]],
 [[405,342],[410,315],[419,280],[438,242],[466,194],[489,159],[528,124],[568,92],[607,54],[638,19],[644,0]],
 [[443,342],[464,299],[489,251],[523,197],[551,159],[596,118],[635,76],[652,45],[658,0]],
 [[649,342],[655,292],[662,238],[669,175],[672,111],[672,0]]
];
var dashB = [
 [[15,342],[11,302],[8,207],[7,111],[7,0]],
 [[177,338],[158,305],[140,264],[110,213],[77,165],[66,143],[37,105],[26,64],[22,0]],
 [[268,345],[268,276],[257,251],[238,207],[216,162],[202,149],[150,129],[107,105],[66,76],[44,48],[37,0]],
 [[268,276],[286,238],[308,188],[326,159],[352,145],[399,124],[447,95],[483,57],[500,19],[505,0]],
 [[359,342],[381,305],[406,248],[439,184],[461,159],[490,110],[505,50],[516,0]],
 [[522,342],[529,238],[531,0]],
 [[94,0],[107,29],[136,57],[176,86],[213,99],[256,107],[297,105],[344,89],[399,64],[428,35],[443,0]],
 [[150,0],[161,35],[191,64],[224,80],[268,88],[308,83],[344,64],[373,38],[386,0]]
];

var RED = '#ee2028', INK = '#262626', SERIF = '"Liberation Serif"';

function polySeries(list, idx, colorOf) {
    return {
        type: 'custom', xAxisIndex: idx, yAxisIndex: idx, silent: true, animation: false,
        data: list.map(function (row, i) { return [i]; }),
        renderItem: function (params, api) {
            var row = colorOf(list[params.dataIndex]);
            return {
                type: 'polygon',
                shape: { points: row.pts.map(function (p) { return api.coord(p); }) },
                style: { fill: row.fill, stroke: row.fill, lineWidth: 1 }
            };
        }
    };
}
function contourSeries(list, idx) {
    return polySeries(list, idx, function (row) {
        return { fill: row[0] < 0 ? '#fff' : bandColors[row[0]], pts: row[1] };
    });
}
function solidSeries(list, idx) {
    return polySeries(list, idx, function (row) { return { fill: RED, pts: row }; });
}
function tickSeries(list, idx) {
    return {
        type: 'custom', xAxisIndex: idx, yAxisIndex: idx, silent: true, animation: false,
        data: list,
        renderItem: function (params, api) {
            var t = list[params.dataIndex], r = t[2] * Math.PI / 180;
            var a = api.coord([t[0] - Math.sin(r) * t[3] / 2, t[1] - Math.cos(r) * t[3] / 2]);
            var b = api.coord([t[0] + Math.sin(r) * t[3] / 2, t[1] + Math.cos(r) * t[3] / 2]);
            return { type: 'line', shape: { x1: a[0], y1: a[1], x2: b[0], y2: b[1] }, style: { stroke: RED, lineWidth: t[4] || 4.5 } };
        }
    };
}
function fanSeries(list, idx, color) {
    return {
        type: 'custom', xAxisIndex: idx, yAxisIndex: idx, silent: true, animation: false,
        data: list,
        renderItem: function (params, api) {
            var t = list[params.dataIndex];
            var a = api.coord([t[0], t[1]]), b = api.coord([t[2], t[3]]);
            return { type: 'line', shape: { x1: a[0], y1: a[1], x2: b[0], y2: b[1] }, style: { stroke: color || RED, lineWidth: t[4] ? t[4] * 1.5 : 4.5 } };
        }
    };
}
function dashSeries(list, idx) {
    return list.map(function (pts) {
        return {
            type: 'line', xAxisIndex: idx, yAxisIndex: idx, data: pts, smooth: 0.3, showSymbol: false, silent: true, animation: false, z: 4,
            lineStyle: { color: INK, width: 5, type: [10, 8] }
        };
    });
}
function grSeries(width, idx) {
    return {
        type: 'line', xAxisIndex: idx, yAxisIndex: idx, data: [[0, grLevel], [width, grLevel]], showSymbol: false, silent: true, animation: false, z: 5,
        lineStyle: { color: INK, width: 11 }
    };
}
function hiddenX(idx, width) { return { gridIndex: idx, type: 'value', min: 0, max: width, show: false }; }
function hiddenY(idx) { return { gridIndex: idx, type: 'value', min: 0, max: heightAB, show: false }; }

function label(text, x, y, size, extra) {
    var el = {
        type: 'text', x: x, y: y, z: 100, silent: true,
        style: { text: text, font: (extra && extra.font || '') + ' ' + size + 'px ' + SERIF, fill: '#111', textAlign: 'center', textVerticalAlign: 'middle' }
    };
    if (extra && extra.rotation) el.rotation = extra.rotation;
    return el;
}
function stroke(x1, y1, x2, y2, w, z) {
    return { type: 'line', z: z || 100, silent: true, shape: { x1: x1, y1: y1, x2: x2, y2: y2 }, style: { stroke: '#222', lineWidth: w } };
}
function pile(x) {
    return [
        { type: 'ellipse', z: -1, silent: true, shape: { cx: x, cy: 1973, rx: 78, ry: 28 }, style: { fill: 'transparent', stroke: '#222', lineWidth: 4 } },
        stroke(x, 1973, x, 2091, 7)
    ];
}
function dimTick(x, y) {
    return [stroke(x - 33, y, x + 33, y, 2.5), stroke(x - 33, y - 12, x + 33, y + 13, 2.5)];
}

var graphicEls = [].concat(
    pile(197), pile(1735), pile(1912), pile(3130),
    [stroke(3259, 32, 3259, 1972, 7), stroke(3422, 32, 3422, 1972, 7)],
    dimTick(3259, 32), dimTick(3259, 1623), dimTick(3259, 1972), dimTick(3422, 32), dimTick(3422, 1972),
    [
        label('Uniform embankment', 72, 1000, 92, { rotation: Math.PI / 2 }),
        label('GR', 295, 1565, 92, { font: 'bold' }),
        label('GR', 2010, 1565, 92, { font: 'bold' }),
        label('a) square, section A-A', 975, 2045, 92),
        label('b) triangular, section B-B', 2522, 2045, 92),
        label('2.05 m', 3344, 825, 92, { rotation: Math.PI / 2 }),
        label('0.45 m', 3344, 1794, 92, { rotation: Math.PI / 2 }),
        label('2.50 m', 3500, 977, 92, { rotation: Math.PI / 2 }),
        label('σ', 703, 2160, 70, { font: 'italic' }),
        label('′', 727, 2146, 50, { font: 'italic' }),
        label('v', 728, 2176, 46, { font: 'italic' }),
        label('[kPa]', 841, 2158, 70)
    ]
);

var series = [].concat(
    contourSeries(contoursA, 0), solidSeries(solidA, 0), fanSeries(slitsA, 0, '#fff'),
    fanSeries(fanALeft, 0), fanSeries(fanARight, 0), tickSeries(ticksATop, 0), tickSeries(ticksAMid, 0), tickSeries(ticksARight, 0), tickSeries(ticksALow, 0),
    dashSeries(dashA, 0), grSeries(widthA, 0),
    contourSeries(contoursB, 1), solidSeries(solidB, 1), fanSeries(slitsB, 1, '#fff'),
    fanSeries(fanBLeft, 1), fanSeries(fanBRight, 1), tickSeries(ticksBTop, 1), tickSeries(ticksBMid, 1), tickSeries(ticksBLow, 1),
    dashSeries(dashB, 1), grSeries(widthB, 1),
    [{
        type: 'custom', xAxisIndex: 2, yAxisIndex: 2, silent: true, animation: false,
        data: scaleStart,
        renderItem: function (params, api) {
            var s = scaleStart[params.dataIndex];
            var a = api.coord([s, 1]), b = api.coord([s + 5, 0]);
            return { type: 'rect', shape: { x: a[0], y: a[1], width: b[0] - a[0] + 0.5, height: b[1] - a[1] }, style: { fill: bandColors[params.dataIndex] } };
        }
    }]
);

var myChart = echarts.init(document.getElementById('main'));
myChart.setOption({
    backgroundColor: '#fff',
    animation: false,
    grid: [
        { left: 197, top: 32, width: 1538, height: 1941 },
        { left: 1912, top: 32, width: 1218, height: 1941 },
        { left: 958, top: 2128, width: 1832, height: 55 }
    ],
    xAxis: [
        hiddenX(0, widthA), hiddenX(1, widthB),
        {
            gridIndex: 2, type: 'value', min: 0, max: 150, interval: 50, z: 10,
            axisLine: { show: false }, splitLine: { show: false },
            axisTick: { show: true, inside: true, length: 55, customValues: scaleTicks, lineStyle: { color: '#111', width: 1.5 } },
            axisLabel: {
                margin: 12, fontFamily: 'Liberation Serif', fontSize: 70, color: '#111',
                formatter: function (v) { return scaleLabels[v]; }
            }
        }
    ],
    yAxis: [hiddenY(0), hiddenY(1), { gridIndex: 2, type: 'value', min: 0, max: 1, show: false }],
    graphic: { elements: graphicEls },
    series: series
});
</script>
</body>
</html>
